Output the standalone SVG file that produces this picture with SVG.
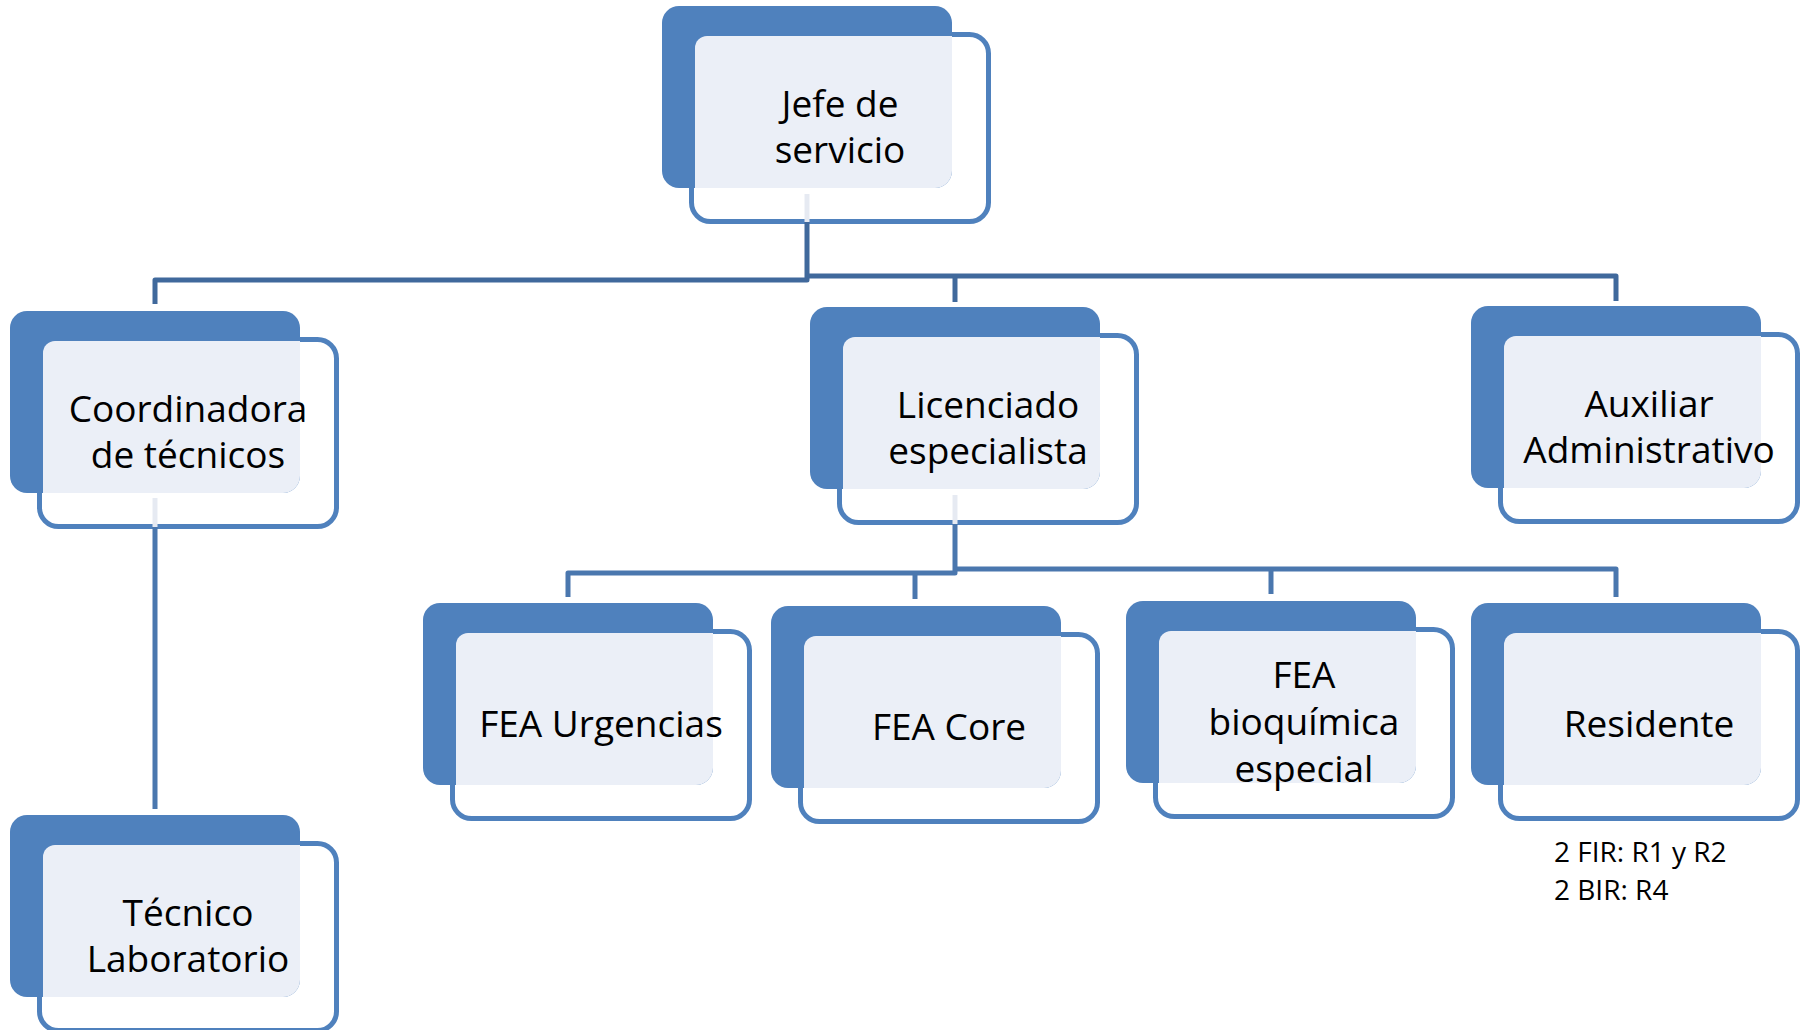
<svg xmlns="http://www.w3.org/2000/svg" width="1805" height="1030" viewBox="0 0 1805 1030">
<style>
.w{fill:#ffffff;stroke:#4F81BD;stroke-width:5}
.b{fill:#4F81BD}
.l{fill:#EBEFF7}
.t{font-family:"Open Sans","Noto Sans",sans-serif;font-size:37px;fill:#000;text-anchor:middle}
.n{font-family:"Open Sans","Noto Sans",sans-serif;font-size:28px;fill:#000}
.c1{fill:none;stroke:#40699C;stroke-width:5;stroke-linejoin:round}
.c2{fill:none;stroke:#4A77AE;stroke-width:5;stroke-linejoin:round}
.s{fill:none;stroke:#E6EAF2;stroke-width:5}
</style>
<defs>
<g id="box">
<rect class="w" x="29.5" y="28.5" width="297" height="187" rx="19"/>
<rect class="b" x="0" y="0" width="290" height="182" rx="17"/>
<path class="l" d="M33 42 A12 12 0 0 1 45 30 H290 V165 A17 17 0 0 1 273 182 H33 Z"/>
</g>
</defs>
<g id="jefe" transform="translate(662,6)">
<use href="#box"/>
<text class="t" x="178" y="111">Jefe de</text>
<text class="t" x="178" y="157">servicio</text>
</g>
<g id="coordinadora" transform="translate(10,311)">
<use href="#box"/>
<text class="t" x="178" y="111">Coordinadora</text>
<text class="t" x="178" y="157">de técnicos</text>
</g>
<g id="licenciado" transform="translate(810,307)">
<use href="#box"/>
<text class="t" x="178" y="111">Licenciado</text>
<text class="t" x="178" y="157">especialista</text>
</g>
<g id="auxiliar" transform="translate(1471,306)">
<use href="#box"/>
<text class="t" x="178" y="111">Auxiliar</text>
<text class="t" x="178" y="157">Administrativo</text>
</g>
<g id="tecnico" transform="translate(10,815)">
<use href="#box"/>
<text class="t" x="178" y="111">Técnico</text>
<text class="t" x="178" y="157">Laboratorio</text>
</g>
<g id="fea-urgencias" transform="translate(423,603)">
<use href="#box"/>
<text class="t" x="178" y="134">FEA Urgencias</text>
</g>
<g id="fea-core" transform="translate(771,606)">
<use href="#box"/>
<text class="t" x="178" y="134">FEA Core</text>
</g>
<g id="fea-bioquimica" transform="translate(1126,601)">
<use href="#box"/>
<text class="t" x="178" y="87">FEA</text>
<text class="t" x="178" y="134">bioquímica</text>
<text class="t" x="178" y="181">especial</text>
</g>
<g id="residente" transform="translate(1471,603)">
<use href="#box"/>
<text class="t" x="178" y="134">Residente</text>
</g>
<g id="residente-note">
<text class="n" x="1554" y="862">2 FIR: R1 y R2</text>
<text class="n" x="1554" y="900">2 BIR: R4</text>
</g>
<g id="connectors">
<path class="s" d="M807 194 V222"/>
<path class="c1" d="M807 222 V280 H155 V304"/>
<path class="c1" d="M807 276 H1616 V301"/>
<path class="c1" d="M955 276 V302"/>
<path class="s" d="M155 498 V527"/>
<path class="c2" d="M155 527 V809"/>
<path class="s" d="M955 495 V524"/>
<path class="c2" d="M955 524 V573 H568 V597"/>
<path class="c2" d="M915 573 V599"/>
<path class="c2" d="M955 569 H1616 V597"/>
<path class="c2" d="M1271 569 V594"/>
</g>
</svg>
